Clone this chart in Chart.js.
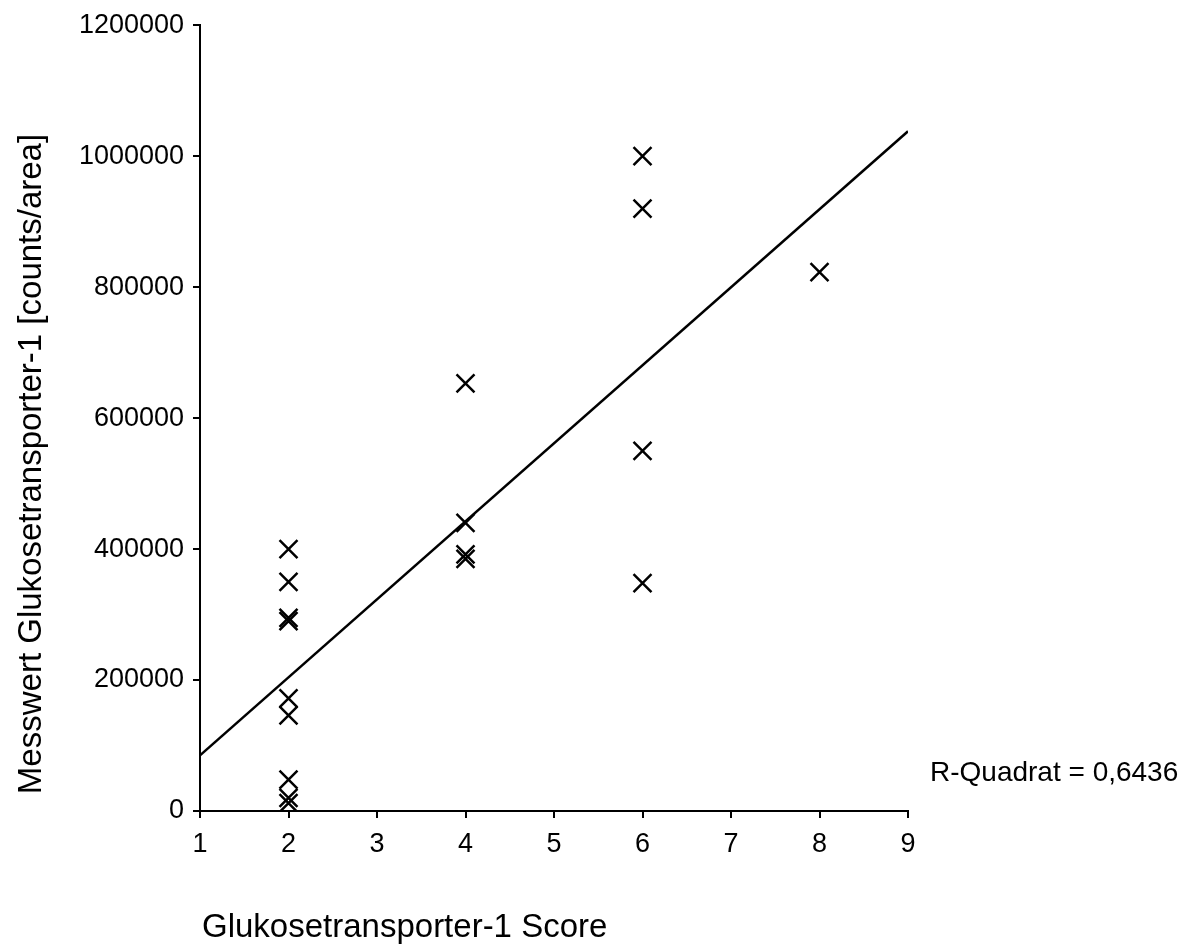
<!DOCTYPE html>
<html>
<head>
<meta charset="utf-8">
<title>Glukosetransporter-1</title>
<script src="https://cdn.jsdelivr.net/npm/chart.js@4.4.0/dist/chart.umd.min.js"></script>
<style>
  body { margin: 0; background: #fff; }
  canvas { display: block; }
</style>
</head>
<body>
<canvas id="myChart" width="1193" height="945"></canvas>
<script>
// score per sample and measured value (counts/area)
const scores = [2, 2, 2, 2, 2, 2, 2, 2, 2, 4, 4, 4, 4, 6, 6, 6, 6, 8];
const values = [400000, 350000, 295000, 290000, 172000, 146000, 48000, 20000, 12000,
                653000, 440000, 392000, 385000,
                1000000, 920000, 550000, 348000,
                823000];
// fitted line end points
const fitX = [1, 9];
const fitY = [85000, 1038000];
const rSquare = 'R-Quadrat = 0,6436';
const xTitle = 'Glukosetransporter-1 Score';
const yTitle = 'Messwert Glukosetransporter-1 [counts/area]';

const FONT = '"Liberation Sans", Arial, sans-serif';

const textPlugin = {
    id: 'extraText',
    afterDraw(chart) {
        const ctx = chart.ctx;
        ctx.save();
        ctx.fillStyle = '#000';
        ctx.font = '33px ' + FONT;
        ctx.textBaseline = 'middle';
        ctx.textAlign = 'left';
        ctx.fillText(xTitle, 202, 928);
        ctx.translate(32, 464);
        ctx.rotate(-Math.PI / 2);
        ctx.textAlign = 'center';
        ctx.fillText(yTitle, 0, 0);
        ctx.restore();

        ctx.save();
        ctx.fillStyle = '#000';
        ctx.font = '28px ' + FONT;
        ctx.textBaseline = 'middle';
        ctx.textAlign = 'left';
        ctx.fillText(rSquare, 930, 773);
        ctx.restore();
    }
};

const points = scores.map((s, i) => ({x: s, y: values[i]}));
const fit = fitX.map((s, i) => ({x: s, y: fitY[i]}));

const config = {
    type: 'scatter',
    data: {
        datasets: [{
            data: points,
            pointStyle: 'crossRot',
            radius: 12.7,
            borderColor: '#000',
            borderWidth: 2.5,
            backgroundColor: '#000'
        }, {
            type: 'line',
            data: fit,
            borderColor: '#000',
            borderWidth: 2.5,
            pointRadius: 0,
            fill: false
        }]
    },
    options: {
        responsive: false,
        animation: false,
        layout: {
            padding: {left: 0, top: 8, right: 285, bottom: 0}
        },
        plugins: {
            legend: {display: false},
            tooltip: {enabled: false}
        },
        scales: {
            x: {
                type: 'linear',
                min: 1,
                max: 9,
                afterFit(scale) { scale.height = 134; },
                ticks: {
                    stepSize: 1,
                    color: '#000',
                    font: {family: FONT, size: 27},
                    padding: 10
                },
                grid: {drawOnChartArea: false, drawTicks: true, tickLength: 7, color: '#000', lineWidth: 2},
                border: {color: '#000', width: 2}
            },
            y: {
                type: 'linear',
                min: 0,
                max: 1200000,
                afterFit(scale) { scale.width = 200; },
                ticks: {
                    stepSize: 200000,
                    color: '#000',
                    font: {family: FONT, size: 27},
                    padding: 9,
                    callback: (v) => String(v)
                },
                grid: {drawOnChartArea: false, drawTicks: true, tickLength: 7, color: '#000', lineWidth: 2},
                border: {color: '#000', width: 2}
            }
        }
    },
    plugins: [textPlugin]
};

const myChart = new Chart(document.getElementById('myChart'), config);
</script>
</body>
</html>
